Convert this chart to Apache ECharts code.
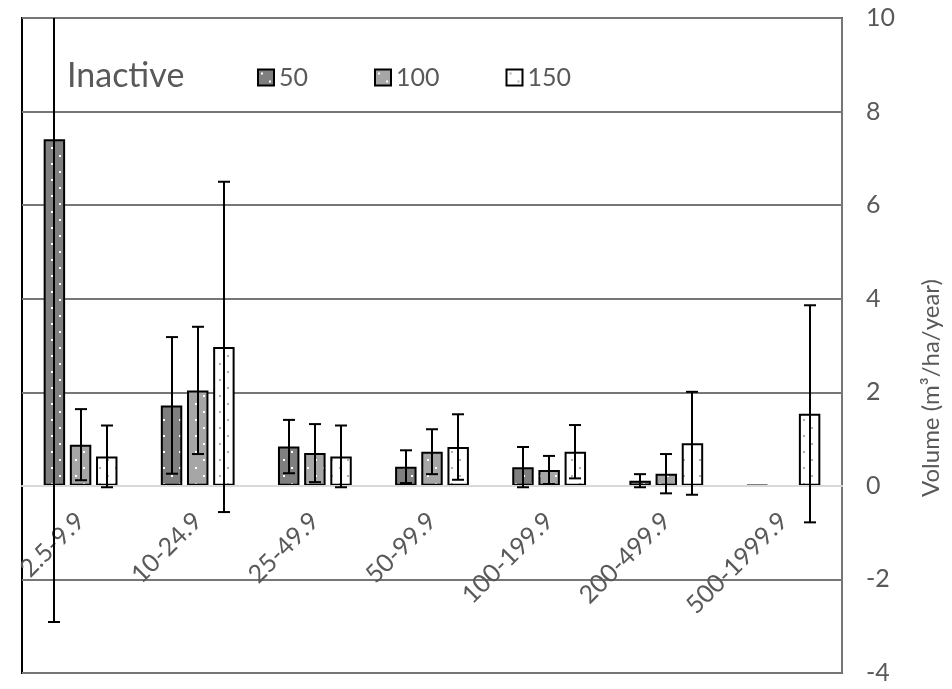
<!DOCTYPE html>
<html>
<head>
<meta charset="utf-8">
<script src="https://cdn.jsdelivr.net/npm/echarts@6/dist/echarts.min.js"></script>
<style>
html,body{margin:0;padding:0;background:#fff;}
#chart{width:952px;height:689px;}
</style>
</head>
<body>
<div id="chart"></div>
<script>
const categories = ['2.5-9.9','10-24.9','25-49.9','50-99.9','100-199.9','200-499.9','500-1999.9'];
const seriesNames = ['50','100','150'];
const values50  = [7.41, 1.72, 0.84, 0.41, 0.40, 0.11, 0.02];
const values100 = [0.88, 2.04, 0.70, 0.73, 0.34, 0.26, null];
const values150 = [0.63, 2.97, 0.63, 0.83, 0.73, 0.91, 1.54];
const err50  = [10.32, 1.46, 0.57, 0.35, 0.43, 0.14, 0];
const err100 = [0.76, 1.36, 0.62, 0.48, 0.30, 0.42, null];
const err150 = [0.66, 3.53, 0.66, 0.70, 0.57, 1.10, 2.32];
const yTicks = [-4, -2, 0, 2, 4, 6, 8, 10];
const titleText = 'Inactive';
const yAxisTitle = 'Volume (m\u00b3/ha/year)';

const FONT = 'Lato';
const TXT = '#595959';
const CAT_GAP = 0.37, BAR_GAP = 0.22, NB = 3;
const GRID = {left: 22, right: 110, top: 18, bottom: 16};
const PLOT_H = 689 - GRID.top - GRID.bottom;
const Y_MIN = yTicks[0], Y_MAX = yTicks[yTicks.length - 1];
// distance from plot bottom up to the zero line, derived from the axis range
const ZERO_FROM_BOTTOM = PLOT_H * (0 - Y_MIN) / (Y_MAX - Y_MIN);

function makePattern(bg, dot) {
  const c = document.createElement('canvas');
  c.width = 16; c.height = 16;
  const ctx = c.getContext('2d');
  ctx.fillStyle = bg; ctx.fillRect(0, 0, 16, 16);
  ctx.fillStyle = dot;
  ctx.fillRect(3, 3, 2, 2);
  ctx.fillRect(11, 11, 2, 2);
  return c;
}
const fills = [
  {image: makePattern('#7f7f7f', '#ffffff'), repeat: 'repeat'},
  {image: makePattern('#a6a6a6', '#ffffff'), repeat: 'repeat'},
  {image: makePattern('#ffffff', '#b0b0b0'), repeat: 'repeat'}
];
const allValues = [values50, values100, values150];
const allErrs = [err50, err100, err150];

const series = [];
allValues.forEach((vals, s) => {
  series.push({
    name: seriesNames[s],
    type: 'bar',
    data: vals,
    barGap: (BAR_GAP * 100) + '%',
    barCategoryGap: (CAT_GAP * 100) + '%',
    itemStyle: {color: fills[s], borderColor: '#000', borderWidth: 2},
    z: 2
  });
});
allValues.forEach((vals, s) => {
  const data = [];
  vals.forEach((v, i) => {
    const e = allErrs[s][i];
    if (v != null && e) data.push([i, v - e, v + e]);
  });
  series.push({
    type: 'custom',
    name: 'err' + s,
    clip: true,
    z: 4,
    silent: true,
    data: data,
    renderItem: function (params, api) {
      const xi = api.value(0);
      const lo = api.coord([xi, api.value(1)]);
      const hi = api.coord([xi, api.value(2)]);
      const band = api.size([1, 0])[0];
      const bw = band * (1 - CAT_GAP) / (NB + (NB - 1) * BAR_GAP);
      const gap = bw * BAR_GAP;
      const off = -(NB * bw + (NB - 1) * gap) / 2 + s * (bw + gap) + bw / 2;
      const x = Math.round(lo[0] + off);
      const cap = 6;
      const st = {stroke: '#000', lineWidth: 2};
      return {
        type: 'group',
        children: [
          {type: 'line', shape: {x1: x, y1: lo[1], x2: x, y2: hi[1]}, style: st},
          {type: 'line', shape: {x1: x - cap, y1: lo[1], x2: x + cap, y2: lo[1]}, style: st},
          {type: 'line', shape: {x1: x - cap, y1: hi[1], x2: x + cap, y2: hi[1]}, style: st}
        ]
      };
    }
  });
});

const chart = echarts.init(document.getElementById('chart'), null, {renderer: 'canvas'});
chart.setOption({
  animation: false,
  backgroundColor: '#fff',
  textStyle: {fontFamily: FONT},
  title: {
    text: titleText,
    left: 62, top: 54,
    textStyle: {fontFamily: FONT, fontSize: 34, fontWeight: 'normal', color: TXT}
  },
  legend: {
    data: seriesNames,
    left: 252, top: 60,
    itemWidth: 16, itemHeight: 16, itemGap: 66,
    icon: 'rect',
    textStyle: {fontFamily: FONT, fontSize: 25, color: TXT}
  },
  grid: {
    left: GRID.left, right: GRID.right, top: GRID.top, bottom: GRID.bottom,
    outerBoundsMode: 'none',
    containLabel: false,
    show: true, borderColor: '#000', borderWidth: 2, backgroundColor: 'transparent'
  },
  xAxis: [{
    type: 'category',
    data: categories,
    z: 3,
    axisLine: {show: true, onZero: true, lineStyle: {color: '#d9d9d9', width: 2}},
    axisTick: {show: false},
    axisLabel: {show: false},
    splitLine: {show: false}
  }, {
    type: 'category',
    data: categories,
    position: 'bottom',
    offset: -ZERO_FROM_BOTTOM,
    z: 3,
    axisLine: {show: false, onZero: false},
    axisTick: {show: false},
    axisLabel: {
      interval: 0, rotate: 45, margin: 31,
      fontFamily: FONT, fontSize: 25, color: TXT
    },
    splitLine: {show: false}
  }],
  yAxis: {
    type: 'value',
    position: 'right',
    min: Y_MIN, max: Y_MAX, interval: 2,
    z: 1,
    axisLine: {show: true, onZero: false, lineStyle: {color: '#767676', width: 2}},
    axisTick: {show: false},
    axisLabel: {margin: 24, fontFamily: FONT, fontSize: 25, color: TXT},
    splitLine: {show: true, lineStyle: {color: '#767676', width: 2}}
  },
  graphic: [{
    type: 'text',
    x: 931, y: 388,
    rotation: Math.PI / 2,
    style: {
      text: yAxisTitle, fontFamily: FONT, fontSize: 24, fill: TXT,
      align: 'center', verticalAlign: 'middle'
    }
  }],
  series: series
});
</script>
</body>
</html>
